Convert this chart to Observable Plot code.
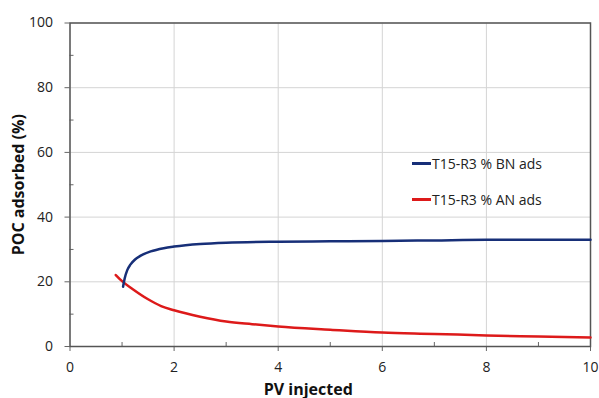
<!DOCTYPE html>
<html>
<head>
<meta charset="utf-8">
<script src="https://cdn.jsdelivr.net/npm/d3@7"></script>
<script src="https://cdn.jsdelivr.net/npm/@observablehq/plot@0.6"></script>
<style>
  html, body { margin: 0; padding: 0; background: #fff; }
  #wrap { position: relative; width: 599px; height: 398px; font-family: "Open Sans", sans-serif; }
  .legend { position: absolute; left: 412px; font-size: 14px; color: #222; display: flex; align-items: center; white-space: nowrap; }
  .legend .sw { display: inline-block; width: 19px; height: 2.5px; margin-right: 1px; }
</style>
</head>
<body>
<div id="wrap"></div>
<script>
// Series: T15-R3 % BN ads
const bnPV  = [1.02, 1.05, 1.1, 1.16, 1.25, 1.35, 1.55, 1.8, 2.0, 2.5, 3, 4, 5, 6, 7, 8, 9, 10];
const bnAds = [18.5, 21.0, 23.6, 25.3, 26.9, 28.0, 29.4, 30.4, 30.9, 31.7, 32.1, 32.4, 32.5, 32.6, 32.8, 33.0, 33.0, 33.0];
// Series: T15-R3 % AN ads
const anPV  = [0.88, 1.0, 1.2, 1.5, 1.75, 2.0, 2.5, 3, 3.5, 4, 5, 6, 7, 8, 9, 10];
const anAds = [22.1, 20.2, 17.8, 14.6, 12.5, 11.2, 9.2, 7.7, 6.9, 6.2, 5.2, 4.3, 3.9, 3.4, 3.1, 2.8];

const seriesNames = ["T15-R3 % BN ads", "T15-R3 % AN ads"];
const seriesColors = ["#172f78", "#dd1a1a"];

const xMajor = [0, 2, 4, 6, 8, 10];
const xMinor = [1, 3, 5, 7, 9];
const yMajor = [0, 20, 40, 60, 80, 100];
const yMinor = [10, 30, 50, 70, 90];

const bn = bnPV.map((x, i) => ({x, y: bnAds[i]}));
const an = anPV.map((x, i) => ({x, y: anAds[i]}));

const W = 599, H = 398, mL = 69.5, mR = 9, mT = 22.5, mB = 52;

const chart = Plot.plot({
  width: W, height: H,
  marginLeft: mL, marginRight: mR, marginTop: mT, marginBottom: mB,
  style: {fontFamily: "Open Sans, sans-serif", fontSize: "14px", color: "#222", background: "#fff"},
  x: {domain: [0, 10]},
  y: {domain: [0, 100]},
  marks: [
    Plot.gridX(xMajor, {stroke: "#d4d4d4", strokeOpacity: 1}),
    Plot.gridY(yMajor, {stroke: "#d4d4d4", strokeOpacity: 1}),
    Plot.tickX(xMinor, {x: d => d, stroke: "#666", insetTop: H - mT - mB - 4}),
    Plot.tickY(yMinor, {y: d => d, stroke: "#666", insetRight: W - mL - mR - 4}),
    Plot.axisX(xMajor, {tickSize: 5, tickPadding: 11, stroke: "#666", fontSize: 14,
      label: "PV injected", labelAnchor: "center", labelArrow: "none", labelOffset: 48}),
    Plot.axisY(yMajor, {tickSize: 5, tickPadding: 12, stroke: "#666", fontSize: 14,
      label: "POC adsorbed (%)", labelAnchor: "center", labelArrow: "none", labelOffset: 57}),
    Plot.frame({stroke: "#555", strokeWidth: 1.5}),
    Plot.line(an, {x: "x", y: "y", stroke: seriesColors[1], strokeWidth: 2.5, curve: "monotone-x"}),
    Plot.line(bn, {x: "x", y: "y", stroke: seriesColors[0], strokeWidth: 2.5, curve: "monotone-x"})
  ]
});

// bold axis labels; x label sits left of the plot centre as in the reference
d3.select(chart).selectAll("[aria-label='x-axis label'] text, [aria-label='y-axis label'] text")
  .attr("font-weight", "bold").attr("font-size", 16).attr("fill", "#111");
d3.select(chart).selectAll("[aria-label='x-axis label'] text").attr("dx", -22);

const wrap = document.getElementById("wrap");
wrap.appendChild(chart);

const legendTops = [154, 190];
seriesNames.forEach((name, i) => {
  const d = document.createElement("div");
  d.className = "legend";
  d.style.top = legendTops[i] + "px";
  d.innerHTML = `<span class="sw" style="background:${seriesColors[i]}"></span>${name}`;
  wrap.appendChild(d);
});
</script>
</body>
</html>
